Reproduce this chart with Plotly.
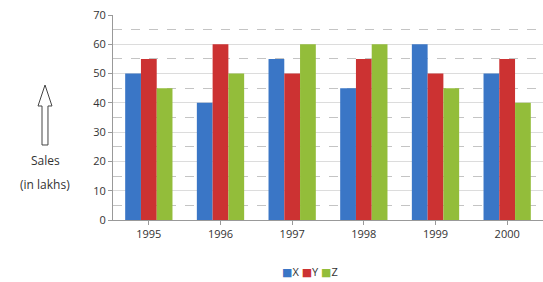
import plotly.graph_objects as go

years = ["1995", "1996", "1997", "1998", "1999", "2000"]
x_vals = [50, 40, 55, 45, 60, 50]
y_vals = [55, 60, 50, 55, 50, 55]
z_vals = [45, 50, 60, 60, 45, 40]
series_names = ["X", "Y", "Z"]
colors = ["#3a76c6", "#cc3232", "#93bd3a"]

W, H = 543, 282
L, R, T, B = 113, 0, 15, 62
pw, ph = W - L - R, H - T - B

def px(x):
    return (x - L) / pw

def py(y):
    return (H - B - y) / ph

fig = go.Figure()
for name, vals, c in zip(series_names, [x_vals, y_vals, z_vals], colors):
    fig.add_trace(go.Bar(x=years, y=vals, name=name, marker=dict(color=c, line=dict(width=0))))

# hollow up arrow
cx = 45
pts = [(cx, 85), (cx + 7, 106), (cx + 3, 106), (cx + 3, 145), (cx - 3, 145), (cx - 3, 106), (cx - 7, 106)]
path = "M " + " L ".join(f"{px(a):.4f},{py(b):.4f}" for a, b in pts) + " Z"
fig.add_shape(type="path", path=path, xref="paper", yref="paper",
              line=dict(color="#444", width=1), fillcolor="white")

font_fam = "Open Sans, DejaVu Sans, sans-serif"
fig.add_annotation(text="Sales", xref="paper", yref="paper", x=px(45), y=py(160),
                   showarrow=False, font=dict(family=font_fam, size=12, color="#333"),
                   xanchor="center", yanchor="middle")
fig.add_annotation(text="(in lakhs)", xref="paper", yref="paper", x=px(45), y=py(184),
                   showarrow=False, font=dict(family=font_fam, size=12, color="#333"),
                   xanchor="center", yanchor="middle")

# compact legend
legend_text = "&nbsp;".join(
    f"<span style='color:{c}'>■</span>{n}" for n, c in zip(series_names, colors))
fig.add_annotation(text=legend_text, xref="paper", yref="paper", x=px(310), y=py(271),
                   showarrow=False, font=dict(family=font_fam, size=11, color="#333"),
                   xanchor="center", yanchor="middle")

fig.update_layout(
    width=W, height=H,
    margin=dict(l=L, r=R, t=T, b=B),
    paper_bgcolor="white", plot_bgcolor="white",
    barmode="group", bargap=0.34, bargroupgap=0,
    font=dict(family=font_fam, size=11, color="#333"),
    showlegend=False,
)
fig.update_xaxes(showline=True, linecolor="#999", linewidth=1, ticks="outside", ticklen=4,
                 tickcolor="#999", showgrid=False, tickfont=dict(size=11, color="#333"))
fig.update_yaxes(range=[0, 70], dtick=10, showline=True, linecolor="#999", linewidth=1,
                 ticks="outside", ticklen=4, tickcolor="#999",
                 gridcolor="#dcdcdc", gridwidth=1, zeroline=False,
                 tickfont=dict(size=11, color="#333"),
                 minor=dict(dtick=5, showgrid=True, griddash="dash", gridcolor="#c4c4c4", ticks=""))

fig.write_html("out.html", config={"displayModeBar": False},
               post_script="document.body.style.margin='0';")
